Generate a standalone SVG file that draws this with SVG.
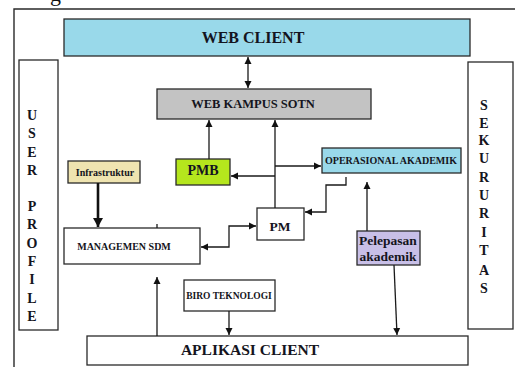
<svg xmlns="http://www.w3.org/2000/svg" width="515" height="367" viewBox="0 0 515 367">
  <style>
    .box { stroke: #2a2a2a; stroke-width: 1.3; }
    .t { font-family: "Liberation Serif", "Times New Roman", serif; font-weight: bold; fill: #141420; text-anchor: middle; }
    .ln { fill: none; stroke: #1a1a1a; stroke-width: 1.3; }
    .thick { fill: none; stroke: #111; stroke-width: 2.6; }
  </style>
  <defs>
    <marker id="ah" markerUnits="userSpaceOnUse" markerWidth="8" markerHeight="8" refX="7" refY="4" orient="auto-start-reverse">
      <path d="M0,0.5 L7,4 L0,7.5 Z" fill="#111"/>
    </marker>
    <marker id="ahBig" markerUnits="userSpaceOnUse" markerWidth="10" markerHeight="10" refX="9" refY="5" orient="auto">
      <path d="M0,0 L9,5 L0,10 Z" fill="#111"/>
    </marker>
  </defs>

  <rect width="515" height="367" fill="#ffffff"/>

  <!-- caption fragment above the frame -->
  <text x="50" y="1" font-family="Liberation Serif, serif" font-size="22" fill="#111">g</text>

  <!-- outer frame -->
  <path d="M14,367 L14,9 L515,9" fill="none" stroke="#2a2a2a" stroke-width="1.4"/>

  <g id="web-client">
    <rect class="box" x="64" y="19" width="406" height="37" fill="#99d9ea"/>
    <text class="t" x="253" y="43" font-size="16">WEB CLIENT</text>
  </g>

  <g id="user-profile">
    <rect class="box" x="19" y="60" width="39" height="270" fill="#ffffff"/>
    <g class="t" font-size="14">
      <text x="32" y="120">U</text>
      <text x="32" y="138">S</text>
      <text x="32" y="157">E</text>
      <text x="32" y="175">R</text>
      <text x="32" y="211">P</text>
      <text x="32" y="229">R</text>
      <text x="32" y="248">O</text>
      <text x="32" y="266">F</text>
      <text x="32" y="284">I</text>
      <text x="32" y="303">L</text>
      <text x="32" y="321">E</text>
    </g>
  </g>

  <g id="sekururitas">
    <rect class="box" x="468" y="62" width="45" height="267" fill="#ffffff"/>
    <g class="t" font-size="14">
      <text x="484" y="110">S</text>
      <text x="484" y="128">E</text>
      <text x="484" y="145">K</text>
      <text x="484" y="163">U</text>
      <text x="484" y="182">R</text>
      <text x="484" y="200">U</text>
      <text x="484" y="218">R</text>
      <text x="484" y="237">I</text>
      <text x="484" y="255">T</text>
      <text x="484" y="275">A</text>
      <text x="484" y="293">S</text>
    </g>
  </g>

  <g id="web-kampus-sotn">
    <rect class="box" x="157" y="89" width="214" height="30" fill="#c3c3c3"/>
    <text class="t" x="253" y="108" font-size="12.5">WEB KAMPUS SOTN</text>
  </g>

  <g id="infrastruktur">
    <rect class="box" x="68" y="161" width="72" height="22" fill="#efe4b0"/>
    <text class="t" x="105" y="176" font-size="10">Infrastruktur</text>
  </g>

  <g id="pmb">
    <rect class="box" x="176" y="159" width="54" height="26" fill="#b5e61d"/>
    <text class="t" x="203" y="175" font-size="14">PMB</text>
  </g>

  <g id="operasional-akademik">
    <rect class="box" x="322" y="148" width="139" height="25" fill="#99d9ea"/>
    <text class="t" x="391" y="164" font-size="10">OPERASIONAL AKADEMIK</text>
  </g>

  <g id="pm">
    <rect class="box" x="257" y="208" width="47" height="32" fill="#ffffff"/>
    <text class="t" x="280" y="231" font-size="13.5">PM</text>
  </g>

  <g id="managemen-sdm">
    <rect class="box" x="64" y="228" width="136" height="36" fill="#ffffff"/>
    <text class="t" x="124" y="250" font-size="10">MANAGEMEN SDM</text>
  </g>

  <g id="pelepasan-akademik">
    <rect class="box" x="357" y="231" width="63" height="34" fill="#c8bfe7"/>
    <text class="t" x="388" y="245" font-size="13.5">Pelepasan</text>
    <text class="t" x="388" y="261" font-size="13.5">akademik</text>
  </g>

  <g id="biro-teknologi">
    <rect class="box" x="184" y="280" width="91" height="31" fill="#ffffff"/>
    <text class="t" x="229" y="299" font-size="9.5">BIRO TEKNOLOGI</text>
  </g>

  <g id="aplikasi-client">
    <rect class="box" x="87" y="336" width="381" height="29" fill="#ffffff"/>
    <text class="t" x="250" y="355" font-size="15.5">APLIKASI CLIENT</text>
  </g>

  <g id="connectors">
    <!-- web client <-> web kampus -->
    <line class="ln" x1="248" y1="57" x2="248" y2="88" marker-start="url(#ah)" marker-end="url(#ah)"/>
    <!-- PMB -> web kampus -->
    <line class="ln" x1="209" y1="159" x2="209" y2="120" marker-end="url(#ah)"/>
    <!-- PM -> web kampus -->
    <line class="ln" x1="275" y1="208" x2="275" y2="120" marker-end="url(#ah)"/>
    <!-- branch to PMB -->
    <line class="ln" x1="275" y1="176" x2="231" y2="176" marker-end="url(#ah)"/>
    <!-- branch to operasional akademik -->
    <line class="ln" x1="275" y1="166" x2="321" y2="166" marker-end="url(#ah)"/>
    <!-- operasional akademik -> PM -->
    <polyline class="ln" points="346,177 346,185 326,185 326,212 305,212" marker-end="url(#ah)"/>
    <!-- managemen SDM <-> PM -->
    <polyline class="ln" points="201,247 229,247 229,226 256,226" marker-start="url(#ah)" marker-end="url(#ah)"/>
    <!-- infrastruktur -> managemen SDM -->
    <line class="thick" x1="98" y1="183" x2="98" y2="227" marker-end="url(#ahBig)"/>
    <!-- small tick above managemen SDM -->
    <line class="ln" x1="157" y1="224" x2="157" y2="228"/>
    <!-- aplikasi client -> managemen SDM side -->
    <line class="ln" x1="157" y1="336" x2="157" y2="277" marker-end="url(#ah)"/>
    <!-- biro teknologi -> aplikasi client -->
    <line class="ln" x1="229" y1="311" x2="229" y2="335" marker-end="url(#ah)"/>
    <!-- pelepasan -> operasional akademik -->
    <line class="ln" x1="367" y1="231" x2="367" y2="182" marker-end="url(#ah)"/>
    <!-- pelepasan -> aplikasi client -->
    <line class="ln" x1="394" y1="265" x2="397" y2="335" marker-end="url(#ah)"/>
  </g>
</svg>
